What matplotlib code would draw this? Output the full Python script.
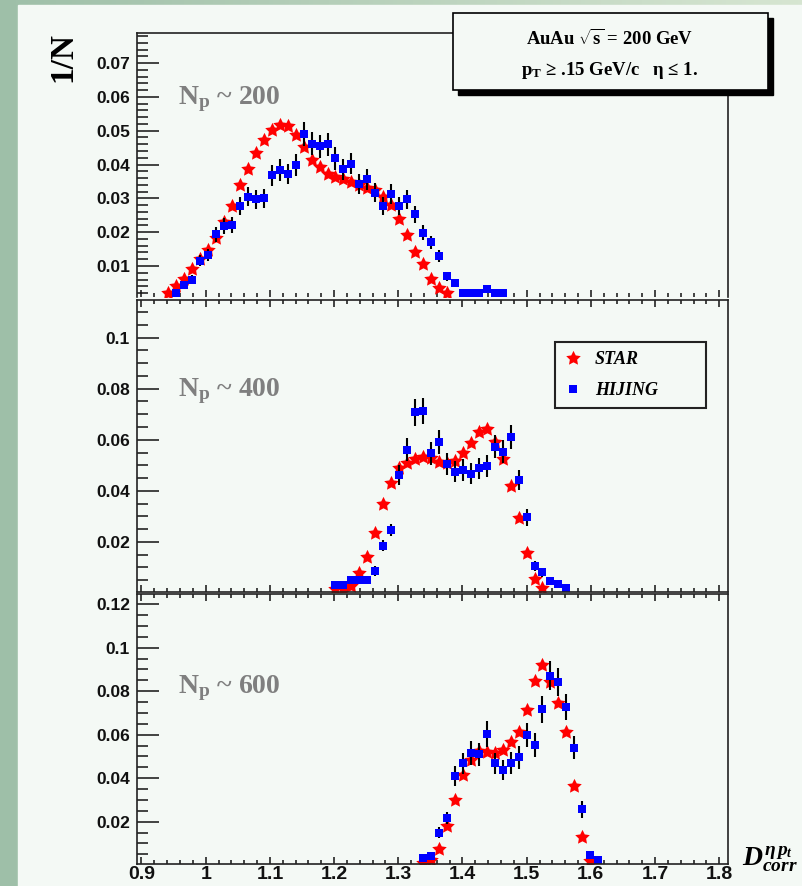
import numpy as np
import matplotlib
matplotlib.use('Agg')
import matplotlib.pyplot as plt
from matplotlib.patches import Rectangle
from matplotlib.ticker import MultipleLocator, FixedLocator, FuncFormatter

plt.rcParams['font.family'] = 'Liberation Sans'
plt.rcParams['font.weight'] = 'bold'
plt.rcParams['mathtext.fontset'] = 'custom'
plt.rcParams['mathtext.rm'] = 'Liberation Serif:bold'
plt.rcParams['mathtext.it'] = 'Liberation Serif:italic:bold'
plt.rcParams['mathtext.bf'] = 'Liberation Serif:bold'

# bin centres of D_corr
bins = [0.9418, 0.9542, 0.9666, 0.9790, 0.9914, 1.0038, 1.0162, 1.0286, 1.0410, 1.0534,
        1.0658, 1.0782, 1.0906, 1.1030, 1.1154, 1.1278, 1.1402, 1.1526, 1.1650, 1.1774,
        1.1898, 1.2022, 1.2146, 1.2270, 1.2394, 1.2518, 1.2642, 1.2766, 1.2890, 1.3014,
        1.3138, 1.3262, 1.3386, 1.3510, 1.3634, 1.3758, 1.3882, 1.4006, 1.4130, 1.4254,
        1.4378, 1.4502, 1.4626, 1.4750, 1.4874, 1.4998, 1.5122, 1.5246, 1.5370, 1.5494,
        1.5618, 1.5742, 1.5866, 1.5990, 1.6114, 1.6238]

# Np ~ 200
star_200_start = 0
star_200 = [0.0019, 0.0041, 0.0063, 0.0090, 0.0120, 0.0147, 0.0182, 0.0231, 0.0277, 0.0339,
            0.0386, 0.0435, 0.0474, 0.0502, 0.0517, 0.0514, 0.0487, 0.0453, 0.0413, 0.0394,
            0.0372, 0.0362, 0.0356, 0.0349, 0.0339, 0.0332, 0.0324, 0.0305, 0.0280, 0.0238,
            0.0191, 0.0142, 0.0106, 0.0063, 0.0034, 0.0021]
hij_200_start = 1
hij_200 = [0.0021, 0.0044, 0.0060, 0.0116, 0.0132, 0.0194, 0.0218, 0.0221, 0.0277, 0.0305,
           0.0297, 0.0300, 0.0369, 0.0384, 0.0372, 0.0398, 0.0490, 0.0462, 0.0454, 0.0460,
           0.0418, 0.0386, 0.0403, 0.0342, 0.0356, 0.0317, 0.0277, 0.0313, 0.0277, 0.0297,
           0.0253, 0.0198, 0.0170, 0.0129, 0.0070, 0.0050, 0.0021, 0.0021, 0.0021, 0.0031,
           0.0021, 0.0021]
hij_200_err = [0.0008, 0.0010, 0.0012, 0.0016, 0.0018, 0.0022, 0.0024, 0.0024, 0.0027, 0.0028,
               0.0028, 0.0028, 0.0031, 0.0032, 0.0031, 0.0032, 0.0036, 0.0034, 0.0034, 0.0034,
               0.0033, 0.0031, 0.0032, 0.0029, 0.0030, 0.0029, 0.0027, 0.0029, 0.0027, 0.0028,
               0.0025, 0.0022, 0.0020, 0.0017, 0.0013, 0.0011, 0.0007, 0.0007, 0.0007, 0.0009,
               0.0007, 0.0007]

# Np ~ 400
star_400_start = 21
star_400 = [0.0014, 0.0016, 0.0029, 0.0077, 0.0142, 0.0236, 0.0348, 0.0432, 0.0488, 0.0510,
            0.0525, 0.0531, 0.0527, 0.0514, 0.0510, 0.0517, 0.0547, 0.0589, 0.0632, 0.0641,
            0.0593, 0.0523, 0.0419, 0.0292, 0.0158, 0.0054, 0.0018]
hij_400_start = 21
hij_400 = [0.0031, 0.0031, 0.0051, 0.0051, 0.0051, 0.0087, 0.0185, 0.0247, 0.0462, 0.0560,
           0.0707, 0.0713, 0.0547, 0.0591, 0.0505, 0.0475, 0.0482, 0.0466, 0.0488, 0.0499,
           0.0573, 0.0553, 0.0610, 0.0442, 0.0296, 0.0106, 0.0081, 0.0047, 0.0035, 0.0018]
hij_400_err = [0.0012, 0.0012, 0.0015, 0.0015, 0.0015, 0.0019, 0.0022, 0.0025, 0.0040, 0.0045,
               0.0052, 0.0052, 0.0045, 0.0047, 0.0043, 0.0042, 0.0042, 0.0041, 0.0042, 0.0043,
               0.0046, 0.0045, 0.0047, 0.0040, 0.0034, 0.0020, 0.0018, 0.0014, 0.0012, 0.0009]

# Np ~ 600
star_600_start = 32
star_600 = [0.0010, 0.0022, 0.0073, 0.0180, 0.0300, 0.0415, 0.0483, 0.0526, 0.0522, 0.0517,
            0.0530, 0.0568, 0.0614, 0.0713, 0.0848, 0.0920, 0.0844, 0.0744, 0.0614, 0.0366,
            0.0128, 0.0020]
hij_600_start = 32
hij_600 = [0.0032, 0.0042, 0.0150, 0.0216, 0.0410, 0.0468, 0.0517, 0.0511, 0.0603, 0.0468,
           0.0438, 0.0471, 0.0496, 0.0599, 0.0553, 0.0718, 0.0871, 0.0841, 0.0726, 0.0540,
           0.0257, 0.0047, 0.0024]
hij_600_err = [0.0012, 0.0014, 0.0025, 0.0028, 0.0045, 0.0050, 0.0054, 0.0053, 0.0058, 0.0050,
               0.0048, 0.0050, 0.0052, 0.0057, 0.0055, 0.0062, 0.0066, 0.0065, 0.0060, 0.0052,
               0.0038, 0.0016, 0.0012]

W, H = 802, 886
BG = '#f4f9f5'


def fx(px):
    return px / W


def fy(py):
    return 1 - py / H


# fat ROOT-like star
ang = np.deg2rad(90 + 36 * np.arange(10))
rad = np.where(np.arange(10) % 2 == 0, 1.0, 0.5)
star = list(zip(rad * np.cos(ang), rad * np.sin(ang)))

fig = plt.figure(figsize=(W / 100, H / 100), dpi=100)

# slide background
bg = fig.add_axes([0, 0, 1, 1], zorder=-5)
bg.axis('off')
t = np.linspace(0, 1, 200)
c0 = np.array([0.62, 0.75, 0.66])
c1 = np.array([0.84, 0.90, 0.82])
bg.imshow((c0 + (c1 - c0) * t[:, None])[None, :, :], extent=[0, 1, 0, 1], aspect='auto')
bg.add_patch(Rectangle((fx(18), 0), 1 - fx(18), fy(5), color=BG))
bg.set_xlim(0, 1)
bg.set_ylim(0, 1)

panels = [
    (33, 297, (0.00083, 0.0789), [0.01, 0.02, 0.03, 0.04, 0.05, 0.06, 0.07], 0.002,
     star_200_start, star_200, hij_200_start, hij_200, hij_200_err, 'N$_\\mathrm{p}$ ~ 200', 104),
    (300, 592, (0.0004, 0.1147), [0.02, 0.04, 0.06, 0.08, 0.1], 0.005,
     star_400_start, star_400, hij_400_start, hij_400, hij_400_err, 'N$_\\mathrm{p}$ ~ 400', 396),
    (594, 864, (0.00055, 0.1247), [0.02, 0.04, 0.06, 0.08, 0.1, 0.12], 0.005,
     star_600_start, star_600, hij_600_start, hij_600, hij_600_err, 'N$_\\mathrm{p}$ ~ 600', 693),
]

axes = []
for i, (top, bot, ylim, yt, ymin, s0, sv, h0, hv, he, lab, lab_y) in enumerate(panels):
    ax = fig.add_axes([fx(137), fy(bot), fx(728) - fx(137), (bot - top) / H])
    ax.set_facecolor('none')
    ax.set_xlim(0.893, 1.8136)
    ax.set_ylim(*ylim)

    xs = bins[s0:s0 + len(sv)]
    xh = bins[h0:h0 + len(hv)]
    l_star, = ax.plot(xs, sv, ls='none', marker=star, ms=11, mew=0, color='red')
    ax.errorbar(xh, hv, yerr=he, fmt='none', ecolor='black', elinewidth=1.5, capsize=0)
    l_hij, = ax.plot(xh, hv, ls='none', marker='s', ms=6.3, mew=0, color='blue')

    ax.yaxis.set_major_locator(FixedLocator(yt))
    ax.yaxis.set_minor_locator(MultipleLocator(ymin))
    ax.yaxis.set_major_formatter(FuncFormatter(lambda v, p: f'{v:g}'))
    ax.xaxis.set_major_locator(MultipleLocator(0.1))
    ax.xaxis.set_minor_locator(MultipleLocator(0.02))
    ax.xaxis.set_major_formatter(FuncFormatter(lambda v, p: f'{v:g}'))

    ax.tick_params(axis='y', which='both', direction='in', left=True, right=False,
                   width=1.1, labelsize=12.5, pad=5, colors='#111111')
    ax.tick_params(axis='y', which='major', length=16)
    ax.tick_params(axis='y', which='minor', length=8)
    ax.tick_params(axis='x', which='both', direction='in', bottom=True, top=(i > 0),
                   width=1.1, labelsize=14, pad=1.5, labelbottom=(i == 2), colors='#111111')
    ax.tick_params(axis='x', which='major', length=5)
    ax.tick_params(axis='x', which='minor', length=2.6)

    for sp in ax.spines.values():
        sp.set_linewidth(1.2)
        sp.set_color('#222222')
    if i == 0:
        ax.spines['bottom'].set_visible(False)

    fig.text(fx(178), fy(lab_y), lab, color='#7f7f7f', family='Liberation Serif',
             weight='bold', size=20, va='baseline', ha='left')
    axes.append((ax, l_star, l_hij))

# legend in the middle panel
ax_mid, l_star, l_hij = axes[1]
leg = ax_mid.legend([l_star, l_hij], ['STAR', 'HIJING'], loc='upper left',
                    bbox_to_anchor=(fx(555), fy(410), fx(706) - fx(555), fy(342) - fy(410)),
                    bbox_transform=fig.transFigure, mode='expand', borderaxespad=0,
                    borderpad=0.5, labelspacing=0.78, handlelength=1.0, handletextpad=0.72,
                    prop={'family': 'Liberation Serif', 'weight': 'bold', 'style': 'italic', 'size': 13},
                    fancybox=False, framealpha=1, edgecolor='#222222', facecolor=BG)
leg.get_frame().set_linewidth(1.5)

# info box with shadow
bx0, by0, bx1, by1 = 452.7, 13.3, 768, 90
fig.patches.append(Rectangle((fx(bx0 + 5), fy(by1 + 5)), (bx1 - bx0) / W, (by1 - by0) / H,
                             transform=fig.transFigure, color='black', zorder=4))
fig.patches.append(Rectangle((fx(bx0), fy(by1)), (bx1 - bx0) / W, (by1 - by0) / H,
                             transform=fig.transFigure, facecolor=BG, edgecolor='black',
                             linewidth=1.2, zorder=5))
fig.text(fx(610), fy(45), 'AuAu $\\sqrt{\\mathrm{s}}$ = 200 GeV', ha='center', va='baseline',
         family='Liberation Serif', weight='bold', size=13.5, zorder=6)
fig.text(fx(610), fy(75), 'p$_\\mathrm{T}$ ≥ .15 GeV/c   η ≤ 1.', ha='center', va='baseline',
         family='Liberation Serif', weight='bold', size=13.5, zorder=6)

fig.text(fx(62.5), fy(57.5), '1/N', rotation=90, ha='center', va='center',
         family='Liberation Serif', weight='bold', size=24)
fig.text(fx(742), fy(865), '$D^{\\eta\\,p_{t}}_{corr}$', ha='left', va='baseline', size=20)

fig.savefig('out.png', dpi=100)
